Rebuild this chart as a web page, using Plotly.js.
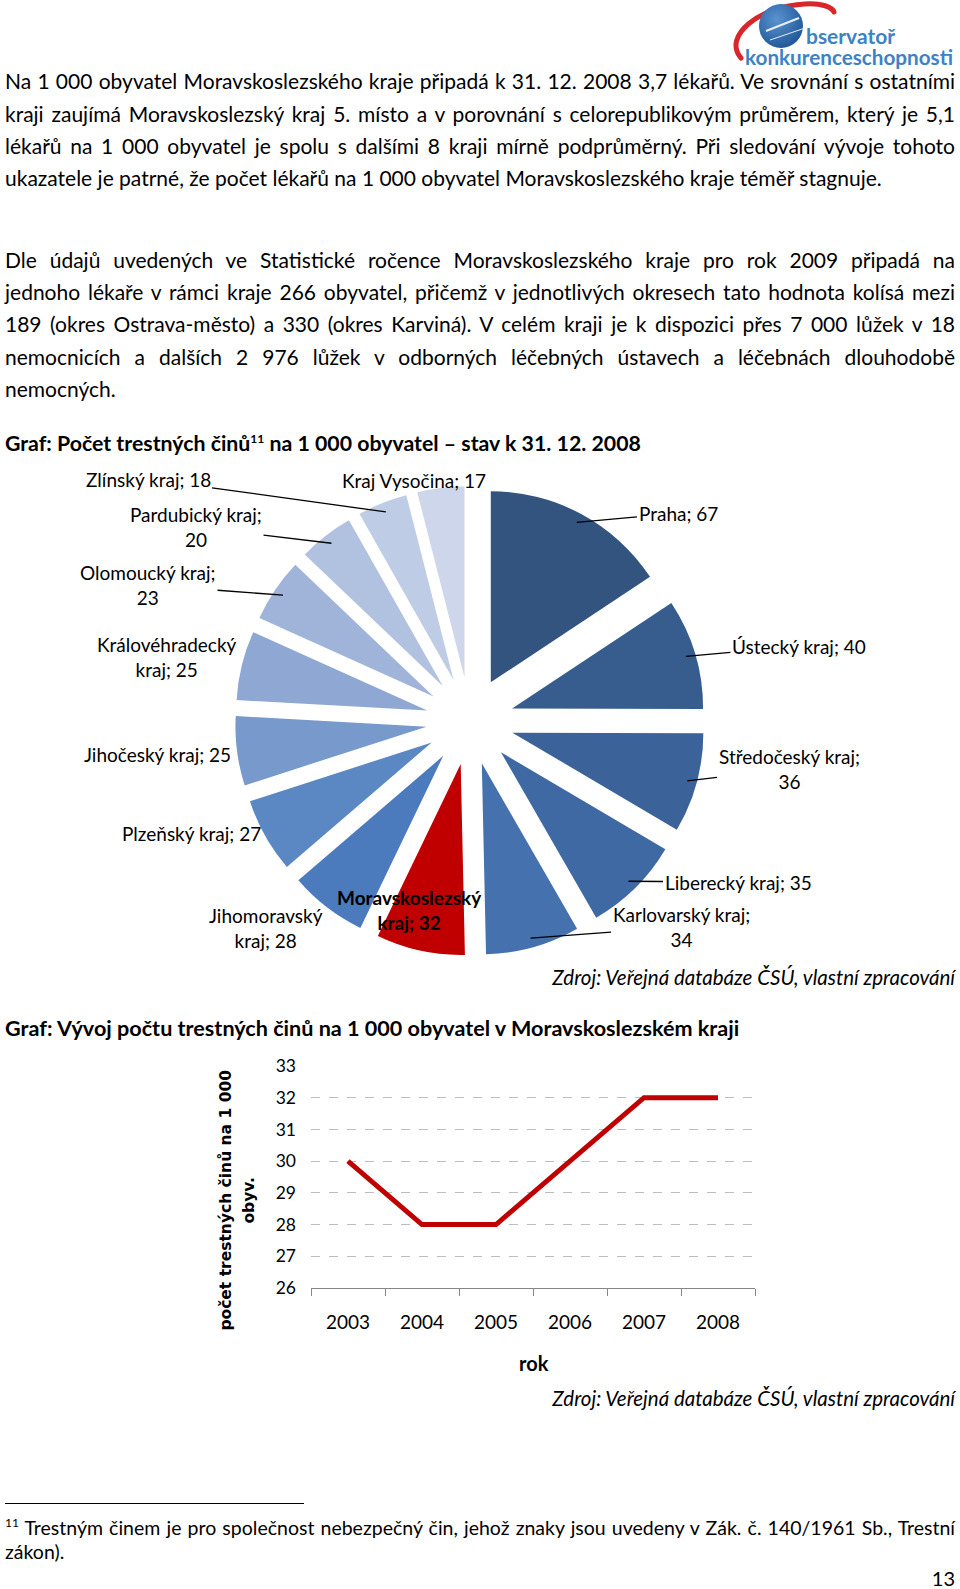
<!DOCTYPE html>
<html><head><meta charset="utf-8">
<script src="https://cdn.plot.ly/plotly-3.0.1.min.js"></script>
<style>
html,body{margin:0;padding:0;background:#fff}
body{width:960px;height:1589px;position:relative;overflow:hidden;font-family:Lato,'Noto Sans',sans-serif;color:#000}
.ln{position:absolute;left:5px;width:950px;height:24px;line-height:24px;font-size:21px;white-space:nowrap;text-align:justify;text-align-last:justify}
.lf{text-align:left;text-align-last:left}
.hd{position:absolute;left:5px;height:28px;line-height:28px;font-size:21.3px;font-weight:bold;white-space:nowrap}
.src{position:absolute;right:5px;height:26px;line-height:26px;font-size:20.5px;font-style:italic;white-space:nowrap}
.fn{position:absolute;left:5px;width:950px;height:24px;line-height:24px;font-size:19.5px;white-space:nowrap;text-align:justify;text-align-last:justify}
sup{font-size:12px;line-height:0;vertical-align:8px}
#pie{position:absolute;left:0;top:455px;width:960px;height:510px}
#line{position:absolute;left:0;top:1040px;width:960px;height:350px}
</style></head>
<body>
<svg style="position:absolute;left:720px;top:0" width="240" height="72" viewBox="720 0 240 72">
  <defs><radialGradient id="g" cx="0.4" cy="0.35" r="0.7"><stop offset="0" stop-color="#5b93d0"/><stop offset="1" stop-color="#1f5596"/></radialGradient></defs>
  <path d="M741,58 C722,36 760,6 805,4 C822,3 832,7 834,12" fill="none" stroke="#d8262b" stroke-width="5" stroke-linecap="round"/>
  <circle cx="781" cy="26" r="22" fill="url(#g)"/>
  <path d="M766,31 L799,18" stroke="#e8eef6" stroke-width="2"/>
  <path d="M770,40 L805,28" stroke="#e8eef6" stroke-width="1"/>
  <text x="806" y="44" font-family="Lato" font-weight="bold" font-size="20" fill="#3d82c4" textLength="89" lengthAdjust="spacingAndGlyphs">bservatoř</text>
  <text x="745" y="65" font-family="Lato" font-weight="bold" font-size="20" fill="#3d82c4" textLength="208" lengthAdjust="spacingAndGlyphs">konkurenceschopnosti</text>
</svg>

<div class="ln" style="top:69px">Na 1&nbsp;000 obyvatel Moravskoslezského kraje připadá k 31. 12. 2008 3,7 lékařů. Ve srovnání s ostatními</div>
<div class="ln" style="top:102px">kraji zaujímá Moravskoslezský kraj 5. místo a v porovnání s celorepublikovým průměrem, který je 5,1</div>
<div class="ln" style="top:134px">lékařů na 1&nbsp;000 obyvatel je spolu s dalšími 8 kraji mírně podprůměrný. Při sledování vývoje tohoto</div>
<div class="ln lf" style="top:166px">ukazatele je patrné, že počet lékařů na 1&nbsp;000 obyvatel Moravskoslezského kraje téměř stagnuje.</div>

<div class="ln" style="top:248px">Dle údajů uvedených ve Statistické ročence Moravskoslezského kraje pro rok 2009 připadá na</div>
<div class="ln" style="top:280px">jednoho lékaře v rámci kraje 266 obyvatel, přičemž v jednotlivých okresech tato hodnota kolísá mezi</div>
<div class="ln" style="top:312px">189 (okres Ostrava-město) a 330 (okres Karviná). V celém kraji je k dispozici přes 7&nbsp;000 lůžek v 18</div>
<div class="ln" style="top:345px">nemocnicích a dalších 2&nbsp;976 lůžek v odborných léčebných ústavech a léčebnách dlouhodobě</div>
<div class="ln lf" style="top:377px">nemocných.</div>

<div class="hd" style="top:429px">Graf: Počet trestných činů<sup>11</sup> na 1&nbsp;000 obyvatel – stav k 31. 12. 2008</div>
<div id="pie"></div>
<div class="src" style="top:964px">Zdroj: Veřejná databáze ČSÚ, vlastní zpracování</div>

<div class="hd" style="top:1014px;font-size:21.6px">Graf: Vývoj počtu trestných činů na 1&nbsp;000 obyvatel v Moravskoslezském kraji</div>
<div id="line"></div>
<div class="src" style="top:1385px">Zdroj: Veřejná databáze ČSÚ, vlastní zpracování</div>

<div style="position:absolute;left:5px;top:1503px;width:299px;height:1px;background:#000"></div>
<div class="fn" style="top:1516px"><sup>11</sup> Trestným činem je pro společnost nebezpečný čin, jehož znaky jsou uvedeny v Zák. č. 140/1961 Sb., Trestní</div>
<div class="fn" style="top:1540px;text-align:left;text-align-last:left">zákon).</div>
<div style="position:absolute;right:5px;top:1566px;height:24px;line-height:24px;font-size:20px">13</div>

<script>
// ---------- data ----------
const regions = ["Praha","Ústecký kraj","Středočeský kraj","Liberecký kraj","Karlovarský kraj","Moravskoslezský kraj","Jihomoravský kraj","Plzeňský kraj","Jihočeský kraj","Královéhradecký kraj","Olomoucký kraj","Pardubický kraj","Zlínský kraj","Kraj Vysočina"];
const crimes2008 = [67,40,36,35,34,32,28,27,25,25,23,20,18,17];
const years = ["2003","2004","2005","2006","2007","2008"];
const msCrimes = [30,28,28,30,32,32];
const yTicks = [26,27,28,29,30,31,32,33];

// ---------- fit justified lines so none overflows ----------
function fitLines(){
  document.querySelectorAll('.ln,.fn').forEach(el=>{
    const cs = getComputedStyle(el);
    const span = document.createElement('span');
    span.innerHTML = el.innerHTML;
    span.style.cssText = 'position:absolute;visibility:hidden;white-space:nowrap;';
    span.style.fontFamily = cs.fontFamily; span.style.fontWeight = cs.fontWeight;
    let fs = parseFloat(cs.fontSize);
    span.style.fontSize = fs + 'px';
    document.body.appendChild(span);
    while(span.getBoundingClientRect().width > 942 && fs > 12){ fs -= 0.25; span.style.fontSize = fs + 'px'; }
    el.style.fontSize = fs + 'px';
    span.remove();
  });
}
fitLines();
if(document.fonts && document.fonts.ready) document.fonts.ready.then(fitLines);

// ---------- styles / positions ----------
const sliceColors = ["#32547f","#375c8e","#3b6399","#3f69a3","#4571ae","#c00000","#4b7bbd","#5b87c3","#7899cb","#8ea8d3","#a0b4da","#b1c2e0","#bfcce5","#cdd6ea"];
// label centre (page px), wrap mode (0 none, 1 after ';', 2 before 'kraj;'), leader line flag
const labelPos = [
  {x:678,y:513,w:0,l:1},{x:799,y:646,w:0,l:1},{x:789,y:769,w:1,l:1},{x:738,y:882,w:0,l:1},
  {x:681,y:927,w:1,l:1},{x:409,y:910,w:2,l:0,b:1},{x:266,y:928,w:2,l:0},{x:191,y:833,w:0,l:0},
  {x:157,y:754,w:0,l:0},{x:167,y:657,w:2,l:0},{x:148,y:585,w:1,l:1},{x:196,y:527,w:1,l:1},
  {x:148,y:479,w:0,l:1},{x:414,y:480,w:0,l:0}
];
const P = {top:455, w:960, h:510, cx:470, cy:721, R:191, pull:0.23};
const ext = P.R*(1+P.pull);
const toPx = (x)=>x/P.w, toPy = (y)=>1-(y-P.top)/P.h;

const total = crimes2008.reduce((a,b)=>a+b,0);
let cum = 0;
const anns = [];
regions.forEach((r,i)=>{
  const v = crimes2008[i];
  const mid = (cum + v/2)/total*2*Math.PI; cum += v;
  let t = r + "; " + v;
  const lp = labelPos[i];
  if(lp.w===1) t = t.replace("; ", ";<br>");
  if(lp.w===2) t = t.replace(" kraj; ", "<br>kraj; ");
  if(lp.b) t = "<b>"+t.replace("<br>","</b><br><b>")+"</b>";
  const font = {family:"Lato", size:19, color:"#000"};
  if(lp.l){
    const d = P.R*P.pull + P.R*0.95;
    const px = P.cx + d*Math.sin(mid), py = P.cy - d*Math.cos(mid);
    anns.push({xref:"paper",yref:"paper",x:toPx(px),y:toPy(py),ax:lp.x-px,ay:lp.y-py,text:t,showarrow:true,arrowhead:0,arrowwidth:1.3,arrowcolor:"#000",standoff:0,font:font});
  } else {
    anns.push({xref:"paper",yref:"paper",x:toPx(lp.x),y:toPy(lp.y),xanchor:"center",yanchor:"middle",text:t,showarrow:false,font:font});
  }
});

Plotly.newPlot("pie",[{
  type:"pie", labels:regions, values:crimes2008, sort:false, direction:"clockwise", rotation:0,
  pull:regions.map(()=>P.pull), textinfo:"none", hoverinfo:"skip",
  marker:{colors:sliceColors, line:{width:0}},
  domain:{x:[(P.cx-ext)/P.w,(P.cx+ext)/P.w], y:[1-(P.cy-P.top+ext)/P.h, 1-(P.cy-P.top-ext)/P.h]}
}],{
  width:P.w, height:P.h, margin:{l:0,r:0,t:0,b:0}, showlegend:false,
  paper_bgcolor:"rgba(0,0,0,0)", annotations:anns
},{staticPlot:true});

// ---------- line chart ----------
const L = {top:1040, w:960, h:350, x0:311, x1:755, y0:1066.4, y1:1288.4};
const lx = (x)=>(x-L.x0)/(L.x1-L.x0), ly = (y)=>1-(y-L.y0)/(L.y1-L.y0);
Plotly.newPlot("line",[{
  x:years, y:msCrimes, type:"scatter", mode:"lines", line:{color:"#c00000", width:5}, hoverinfo:"skip"
}],{
  width:L.w, height:L.h, margin:{l:L.x0, r:L.w-L.x1, t:L.y0-L.top, b:L.top+L.h-L.y1},
  paper_bgcolor:"rgba(0,0,0,0)", plot_bgcolor:"rgba(0,0,0,0)", showlegend:false,
  xaxis:{type:"category", range:[-0.5, years.length-0.5], tickson:"boundaries", ticks:"outside", ticklen:7, tickcolor:"#868686", tickwidth:1,
         showline:true, linecolor:"#868686", linewidth:1, showgrid:false, zeroline:false,
         tickfont:{family:"Lato", size:19, color:"#000"}, ticklabelstandoff:17},
  yaxis:{range:[26,33], tickvals:yTicks, showgrid:true, gridcolor:"#bdbdbd", griddash:"dash", gridwidth:1,
         zeroline:false, showline:false, ticks:"", tickfont:{family:"Lato", size:17.5, color:"#000"}, ticklabelstandoff:14},
  annotations:[
    {xref:"paper",yref:"paper",x:lx(534),y:ly(1363),xanchor:"center",yanchor:"middle",text:"<b>rok</b>",showarrow:false,font:{family:"Lato",size:20,color:"#000"}},
    {xref:"paper",yref:"paper",x:lx(226),y:ly(1201),xanchor:"center",yanchor:"middle",text:"<b>počet trestných činů na 1 000</b>",textangle:-90,showarrow:false,font:{family:"DejaVu Sans",size:15.5,color:"#000"}},
    {xref:"paper",yref:"paper",x:lx(249),y:ly(1201),xanchor:"center",yanchor:"middle",text:"<b>obyv.</b>",textangle:-90,showarrow:false,font:{family:"DejaVu Sans",size:15.5,color:"#000"}}
  ]
},{staticPlot:true});
</script>
</body></html>
